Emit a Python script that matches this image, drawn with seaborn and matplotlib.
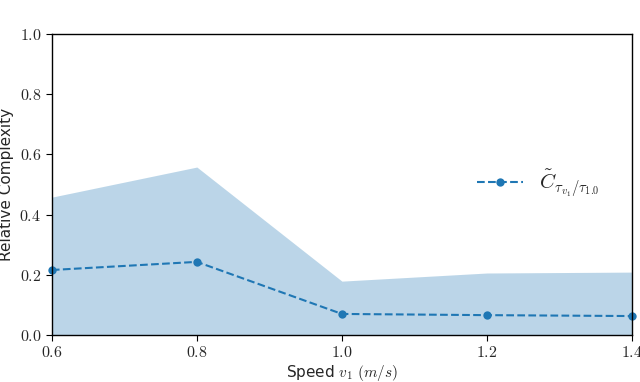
import matplotlib
matplotlib.use("Agg")
import matplotlib.pyplot as plt
import seaborn as sns
import pandas as pd
from matplotlib.ticker import FuncFormatter

sns.set_style("ticks")
plt.rcParams["mathtext.fontset"] = "cm"
plt.rcParams["font.family"] = ["DejaVu Sans"]

# 数据：速度与相对复杂度
speeds = [0.6, 0.8, 1.0, 1.2, 1.4]
complexity = [0.216, 0.243, 0.070, 0.066, 0.063]
upper_band = [0.458, 0.558, 0.179, 0.206, 0.209]
lower_band = [0.0, 0.0, 0.0, 0.0, 0.0]

df = pd.DataFrame({"speed": speeds, "complexity": complexity})

fig = plt.figure(figsize=(6.4, 3.82), dpi=100)
ax = fig.add_axes([0.081, 0.123, 0.9065, 0.788])

blue = "#1f77b4"
ax.fill_between(speeds, lower_band, upper_band, color=blue, alpha=0.3, linewidth=0)
sns.lineplot(data=df, x="speed", y="complexity", ax=ax, color=blue, linestyle="--",
             marker="o", markersize=6, markeredgewidth=0,
             label=r"$\tilde{C}_{\tau_{v_1}/\tau_{1.0}}$", clip_on=False)

ax.set_xlim(0.6, 1.4)
ax.set_ylim(0.0, 1.0)
ax.set_xticks(speeds)
ax.set_yticks([0.0, 0.2, 0.4, 0.6, 0.8, 1.0])
fmt = FuncFormatter(lambda v, p: r"$%.1f$" % v)
ax.xaxis.set_major_formatter(fmt)
ax.yaxis.set_major_formatter(fmt)
ax.tick_params(labelsize=11.5, length=4, color="black")
for s in ax.spines.values():
    s.set_color("black")
    s.set_linewidth(1.0)

ax.set_xlabel(r"Speed $v_1$ $(m/s)$", fontsize=11, labelpad=2)
ax.set_ylabel("Relative Complexity", fontsize=11, labelpad=4)

leg = ax.legend(loc="center left", bbox_to_anchor=(0.70, 0.505), frameon=False,
                fontsize=15, handlelength=2.2, handletextpad=0.8)

fig.savefig("out.png", dpi=100)
